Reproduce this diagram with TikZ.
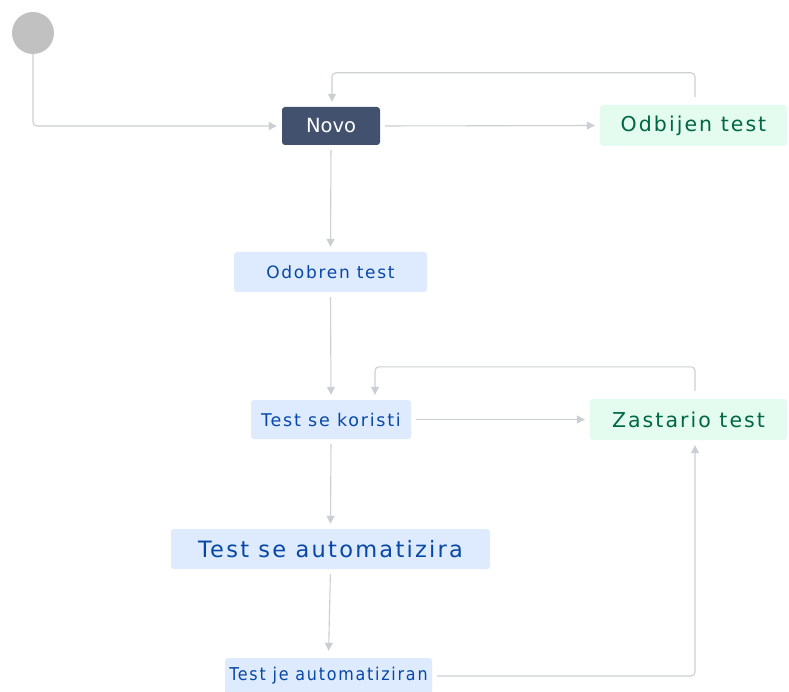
\documentclass[tikz,border=0pt]{standalone}
\usepackage{fontspec}
\setmainfont{DejaVu Sans}
\newfontfamily\spacedfont[LetterSpace=10]{DejaVu Sans}
\newfontfamily\condfont[LetterSpace=10]{DejaVu Sans Condensed}
\usetikzlibrary{arrows.meta}
\definecolor{navy}{HTML}{42526E}
\definecolor{lblue}{HTML}{DEEBFF}
\definecolor{dblue}{HTML}{0747A6}
\definecolor{lgreen}{HTML}{E3FCEF}
\definecolor{dgreen}{HTML}{006644}
\definecolor{conncol}{HTML}{CBCFD4}
\definecolor{startcol}{HTML}{C1C1C1}
\tikzset{
  state/.style={rectangle, rounded corners=3pt, inner sep=0pt, align=center},
  darkstate/.style={state, fill=navy, text=white},
  bluestate/.style={state, fill=lblue, text=dblue},
  greenstate/.style={state, fill=lgreen, text=dgreen},
  conn/.style={draw=conncol, line width=1.1pt, rounded corners=4pt,
    -{Triangle[width=8pt,length=8pt]}, shorten >=5pt, shorten <=5pt},
}
\begin{document}
\begin{tikzpicture}[x=1pt, y=-1pt]
\useasboundingbox (0,0) rectangle (789,692);
\clip (0,0) rectangle (789,692);
\fill[white] (0,0) rectangle (789,692);
\node[circle, fill=startcol, minimum size=42pt, inner sep=0pt] (start) at (33,33) {};
\node[darkstate, minimum width=98pt, minimum height=38pt, font=\fontsize{19.5}{22}\selectfont] (novo) at (331,126) {Novo};
\node[greenstate, minimum width=187pt, minimum height=41pt, font=\spacedfont\fontsize{20.5}{24}\selectfont] (odbijen) at (693.5,125.5) {Odbijen test};
\node[bluestate, minimum width=193pt, minimum height=40pt, font=\spacedfont\fontsize{17}{20}\selectfont] (odobren) at (330.5,272) {Odobren test};
\node[bluestate, minimum width=160pt, minimum height=39pt, font=\spacedfont\fontsize{17.5}{20}\selectfont] (koristi) at (331,419.5) {Test se koristi};
\node[greenstate, minimum width=197pt, minimum height=41pt, font=\spacedfont\fontsize{20.5}{24}\selectfont] (zastario) at (688.5,419.5) {Zastario test};
\node[bluestate, minimum width=319pt, minimum height=40pt, font=\spacedfont\fontsize{22.5}{26}\selectfont] (automatizira) at (330.5,549) {Test se automatizira};
\node[bluestate, minimum width=207pt, minimum height=36pt, font=\condfont\fontsize{17.7}{20}\selectfont] (automatiziran) at (328.5,676) {Test je automatiziran};
\draw[conn, shorten <=0pt] (start.south) |- (novo.west);
\draw[conn] (novo.east) -- (odbijen.west);
\draw[conn, shorten <=8pt] ([xshift=1.5pt]odbijen.north) -- ++(0,-32) -| ([xshift=1pt]novo.north);
\draw[conn] (novo.south) -- (odobren.north);
\draw[conn] (odobren.south) -- (koristi.north);
\draw[conn] (koristi.east) -- (zastario.west);
\draw[conn, shorten <=8pt] ([xshift=6.5pt]zastario.north) -- ++(0,-32) -| ([xshift=44pt]koristi.north);
\draw[conn] (koristi.south) -- (automatizira.north);
\draw[conn] (automatizira.south) -- ([yshift=2pt]automatiziran.north);
\draw[conn] (automatiziran.east) -| ([xshift=6.5pt]zastario.south);
\end{tikzpicture}
\end{document}
